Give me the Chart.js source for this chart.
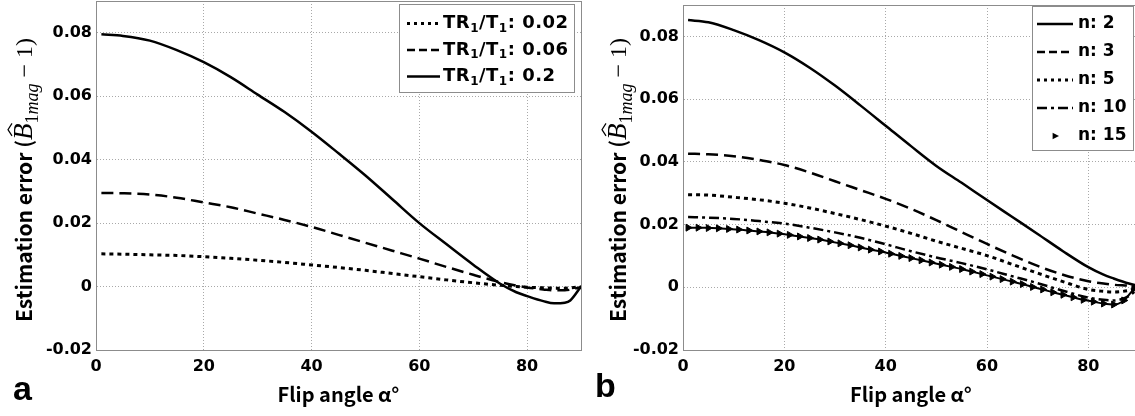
<!DOCTYPE html>
<html lang="en">
<head>
<meta charset="UTF-8">
<title>Estimation error vs flip angle</title>
<script src="https://cdn.jsdelivr.net/npm/chart.js"></script>
<style>
    body, html {
        margin: 0;
        padding: 0;
        width: 100%;
        height: 100%;
        overflow: hidden;
        background: #fff;
    }
    .panel { position: absolute; top: 0; height: 416px; }
    #panelA { left: 0; width: 590px; }
    #panelB { left: 590px; width: 560px; }
</style>
</head>
<body>
<div class="panel" id="panelA"><canvas id="chartA"></canvas></div>
<div class="panel" id="panelB"><canvas id="chartB"></canvas></div>
<script>
// panel a: error for three TR1/T1 ratios
const angleA = [1, 5, 10, 15, 20, 25, 30, 35, 40, 45, 50, 55, 60, 65, 70, 75, 78, 80, 83, 85, 87, 88, 90];
const tr002 = [0.0103, 0.0102, 0.0100, 0.0098, 0.0094, 0.0089, 0.0083, 0.0076, 0.0068, 0.0060, 0.0051, 0.0041, 0.0031, 0.0021, 0.0012, 0.0004, 0.0000, -0.0002, -0.0004, -0.0005, -0.0005, -0.0004, -0.0001];
const tr006 = [0.0295, 0.0294, 0.0290, 0.0280, 0.0265, 0.0250, 0.0230, 0.0210, 0.0188, 0.0163, 0.0138, 0.0113, 0.0088, 0.0062, 0.0037, 0.0014, 0.0003, -0.0003, -0.0009, -0.0012, -0.0012, -0.0010, -0.0002];
const tr02 = [0.0795, 0.0790, 0.0775, 0.0745, 0.0707, 0.0660, 0.0605, 0.0550, 0.0488, 0.0420, 0.0350, 0.0275, 0.0200, 0.0134, 0.0069, 0.0009, -0.0018, -0.0030, -0.0046, -0.0053, -0.0051, -0.0044, 0.0000];

// panel b: error for number of averages n
const angleB = [1, 5, 10, 15, 20, 25, 30, 35, 40, 45, 50, 55, 60, 65, 70, 75, 80, 83, 85, 88, 90];
const n2 = [0.0852, 0.0845, 0.0820, 0.0788, 0.0749, 0.0700, 0.0643, 0.0580, 0.0515, 0.0450, 0.0387, 0.0333, 0.0278, 0.0224, 0.0170, 0.0115, 0.0064, 0.0040, 0.0028, 0.0012, 0.0004];
const n3 = [0.0426, 0.0424, 0.0418, 0.0406, 0.0390, 0.0366, 0.0338, 0.0310, 0.0282, 0.0250, 0.0214, 0.0176, 0.0138, 0.0102, 0.0068, 0.0040, 0.0019, 0.0012, 0.0008, 0.0005, 0.0002];
const n5 = [0.0295, 0.0294, 0.0287, 0.0279, 0.0268, 0.0253, 0.0235, 0.0216, 0.0195, 0.0172, 0.0147, 0.0124, 0.0101, 0.0073, 0.0045, 0.0018, -0.0007, -0.0013, -0.0015, -0.0010, 0.0000];
const n10 = [0.0224, 0.0222, 0.0218, 0.0211, 0.0203, 0.0190, 0.0175, 0.0158, 0.0137, 0.0115, 0.0095, 0.0077, 0.0057, 0.0035, 0.0013, -0.0011, -0.0033, -0.0040, -0.0042, -0.0028, 0.0000];
const angleB15 = [1, 3, 5, 7, 9, 11, 13, 15, 17, 19, 21, 23, 25, 27, 29, 31, 33, 35, 37, 39, 41, 43, 45, 47, 49, 51, 53, 55, 57, 59, 61, 63, 65, 67, 69, 71, 73, 75, 77, 79, 81, 83, 85, 87, 89];
const n15 = [0.0190, 0.0190, 0.0189, 0.0188, 0.0186, 0.0184, 0.0181, 0.0178, 0.0175, 0.0171, 0.0167, 0.0162, 0.0157, 0.0152, 0.0146, 0.0140, 0.0134, 0.0127, 0.0120, 0.0114, 0.0107, 0.0100, 0.0093, 0.0086, 0.0079, 0.0072, 0.0065, 0.0058, 0.0050, 0.0042, 0.0034, 0.0026, 0.0018, 0.0010, 0.0001, -0.0007, -0.0016, -0.0024, -0.0032, -0.0040, -0.0046, -0.0052, -0.0055, -0.0042, -0.0005];

const xTicks = [0, 20, 40, 60, 80];
const yTicks = [-0.02, 0, 0.02, 0.04, 0.06, 0.08];

const tickFont = { family: '"DejaVu Sans"', weight: 'bold', size: 16 };
const gridColor = '#a9a9a9';

const pts = (xs, ys) => xs.map((x, i) => ({ x, y: ys[i] }));

const curve = (label, xs, ys, dash, width) => ({
    label,
    data: pts(xs, ys),
    borderColor: '#000',
    backgroundColor: '#000',
    borderWidth: width,
    borderDash: dash,
    borderCapStyle: 'butt',
    pointRadius: 0,
    fill: false,
    cubicInterpolationMode: 'monotone'
});

// draws "TR_1/T_1" style strings with one-char subscripts
function richText(ctx, str, x, y, font, subFont, shift) {
    str.split(/_(\w)/).forEach((p, i) => {
        if (!p) return;
        const sub = i % 2 === 1;
        ctx.font = sub ? subFont : font;
        ctx.fillText(p, x, y + (sub ? shift : 0));
        x += ctx.measureText(p).width;
    });
    return x;
}

// full axes box (matlab style)
const axesBox = {
    id: 'axesBox',
    afterDatasetsDraw(chart) {
        const { ctx, chartArea: a } = chart;
        ctx.save();
        ctx.strokeStyle = '#8c8c8c';
        ctx.lineWidth = 1;
        ctx.strokeRect(Math.round(a.left) + 0.5, Math.round(a.top) + 0.5, Math.round(a.right - a.left), Math.round(a.bottom - a.top));
        ctx.restore();
    }
};

const boxLegend = {
    id: 'boxLegend',
    afterDraw(chart, args, o) {
        const { ctx } = chart;
        ctx.save();
        ctx.fillStyle = '#fff';
        ctx.fillRect(o.x, o.y, o.w, o.h);
        ctx.strokeStyle = '#8c8c8c';
        ctx.lineWidth = 1;
        ctx.strokeRect(o.x + 0.5, o.y + 0.5, o.w, o.h);
        chart.data.datasets.forEach((ds, i) => {
            const y = o.rowY + i * o.rowGap;
            ctx.strokeStyle = '#000';
            ctx.fillStyle = '#000';
            if (ds.pointRadius > 0) {
                const cx = (o.lineX0 + o.lineX1) / 2, r = 4;
                ctx.beginPath();
                ctx.moveTo(cx + r, y);
                ctx.lineTo(cx - r * 0.6, y - r * 0.8);
                ctx.lineTo(cx - r * 0.6, y + r * 0.8);
                ctx.closePath();
                ctx.fill();
            } else {
                ctx.lineWidth = ds.borderWidth;
                ctx.setLineDash(o.dashes[i]);
                ctx.beginPath();
                ctx.moveTo(o.lineX0, y);
                ctx.lineTo(o.lineX1, y);
                ctx.stroke();
                ctx.setLineDash([]);
            }
            ctx.textBaseline = 'middle';
            ctx.textAlign = 'left';
            ctx.letterSpacing = o.spacing;
            richText(ctx, ds.label, o.textX, y, o.font, 'bold 12px "DejaVu Sans"', 5);
        });
        ctx.restore();
    }
};

// rotated y title with the B-hat expression
const yTitle = {
    id: 'yTitle',
    afterDraw(chart, args, o) {
        const { ctx } = chart;
        const parts = [
            { t: 'Estimation error (', f: 'bold 21px "Noto Sans CJK KR"', dy: 0 },
            { t: 'B', f: 'italic 27px "Liberation Serif"', dy: 0, hat: true },
            { t: '1', f: '18px "Liberation Serif"', dy: 6 },
            { t: 'mag', f: 'italic 18px "Liberation Serif"', dy: 6 },
            { t: ' \u2212 1)', f: '24px "Liberation Serif"', dy: 0 }
        ];
        ctx.save();
        let total = 0;
        parts.forEach(p => { ctx.font = p.f; p.w = ctx.measureText(p.t).width; total += p.w; });
        ctx.translate(o.x, o.y);
        ctx.rotate(-Math.PI / 2);
        ctx.fillStyle = '#000';
        ctx.textBaseline = 'alphabetic';
        ctx.textAlign = 'left';
        let x = -total / 2;
        parts.forEach(p => {
            ctx.font = p.f;
            ctx.fillText(p.t, x, p.dy);
            if (p.hat) {
                ctx.lineWidth = 1.2;
                ctx.strokeStyle = '#000';
                ctx.beginPath();
                ctx.moveTo(x + 4, -20);
                ctx.lineTo(x + p.w / 2 + 2, -24);
                ctx.lineTo(x + p.w, -20);
                ctx.stroke();
            }
            x += p.w;
        });
        ctx.restore();
    }
};

const panelLabel = {
    id: 'panelLabel',
    afterDraw(chart, args, o) {
        const { ctx } = chart;
        ctx.save();
        ctx.font = 'bold 34px "Liberation Sans"';
        ctx.fillStyle = '#000';
        ctx.textBaseline = 'alphabetic';
        ctx.fillText(o.text, o.x, o.y);
        ctx.restore();
    }
};

function makeOptions(yAxisWidth, padRight, legendOpts, titleOpts, labelOpts) {
    return {
        responsive: true,
        maintainAspectRatio: false,
        animation: false,
        layout: { padding: { top: 1, right: padRight, bottom: 0, left: 0 } },
        scales: {
            x: {
                type: 'linear',
                min: 0,
                max: 90,
                afterBuildTicks: s => { s.ticks = xTicks.map(v => ({ value: v })); },
                afterFit: s => { s.height = 66; s.paddingLeft = 0; s.paddingRight = 0; },
                grid: { color: gridColor, lineWidth: 1, drawTicks: false },
                border: { display: true, color: '#8c8c8c', dash: [1, 2] },
                ticks: { font: tickFont, color: '#000', padding: 7, maxRotation: 0, autoSkip: false, callback: v => String(v) },
                title: {
                    display: true,
                    text: 'Flip angle α°',
                    color: '#000',
                    font: { family: '"Noto Sans CJK KR"', weight: 'bold', size: 20 },
                    padding: { top: 0, bottom: 10 }
                }
            },
            y: {
                min: -0.02,
                max: 0.09,
                afterBuildTicks: s => { s.ticks = yTicks.map(v => ({ value: v })); },
                afterFit: s => { s.width = yAxisWidth; s.paddingTop = 0; s.paddingBottom = 0; },
                grid: { color: gridColor, lineWidth: 1, drawTicks: false },
                border: { display: true, color: '#8c8c8c', dash: [1, 2] },
                ticks: { font: tickFont, color: '#000', padding: 4, autoSkip: false, callback: v => v === 0 ? '0' : v.toFixed(2) }
            }
        },
        plugins: {
            legend: { display: false },
            tooltip: { enabled: false },
            boxLegend: legendOpts,
            yTitle: titleOpts,
            panelLabel: labelOpts
        }
    };
}

new Chart(document.getElementById('chartA').getContext('2d'), {
    type: 'line',
    data: {
        datasets: [
            curve('TR_1/T_1: 0.02', angleA, tr002, [4, 4], 3),
            curve('TR_1/T_1: 0.06', angleA, tr006, [12, 6], 2.5),
            curve('TR_1/T_1: 0.2', angleA, tr02, [], 2.5)
        ]
    },
    options: makeOptions(96, 9,
        { x: 399, y: 4, w: 175, h: 88, rowY: 23.5, rowGap: 26.5, lineX0: 407, lineX1: 440, textX: 443, font: 'bold 18px "DejaVu Sans"', spacing: '0.5px', dashes: [[3, 4], [8, 4], []] },
        { x: 32, y: 180 },
        { text: 'a', x: 13, y: 400 }),
    plugins: [axesBox, boxLegend, yTitle, panelLabel]
});

const n15Set = curve('n: 15', angleB15, n15, [], 2);
n15Set.pointRadius = 4;
n15Set.pointStyle = 'triangle';
n15Set.rotation = 90;
n15Set.pointBorderWidth = 1;

new Chart(document.getElementById('chartB').getContext('2d'), {
    type: 'line',
    data: {
        datasets: [
            curve('n: 2', angleB, n2, [], 2.5),
            curve('n: 3', angleB, n3, [12, 6], 2.5),
            curve('n: 5', angleB, n5, [4, 4], 3),
            curve('n: 10', angleB, n10, [10, 4, 3, 4], 2.5),
            n15Set
        ]
    },
    options: makeOptions(93, 11,
        { x: 442, y: 6, w: 101, h: 144, rowY: 24, rowGap: 28, lineX0: 447, lineX1: 483, textX: 488, font: 'bold 17px "DejaVu Sans"', spacing: '0px', dashes: [[], [8, 4], [3, 4], [10, 4, 3, 4], []] },
        { x: 36, y: 180 },
        { text: 'b', x: 5, y: 397 }),
    plugins: [axesBox, boxLegend, yTitle, panelLabel]
});
</script>
</body>
</html>
